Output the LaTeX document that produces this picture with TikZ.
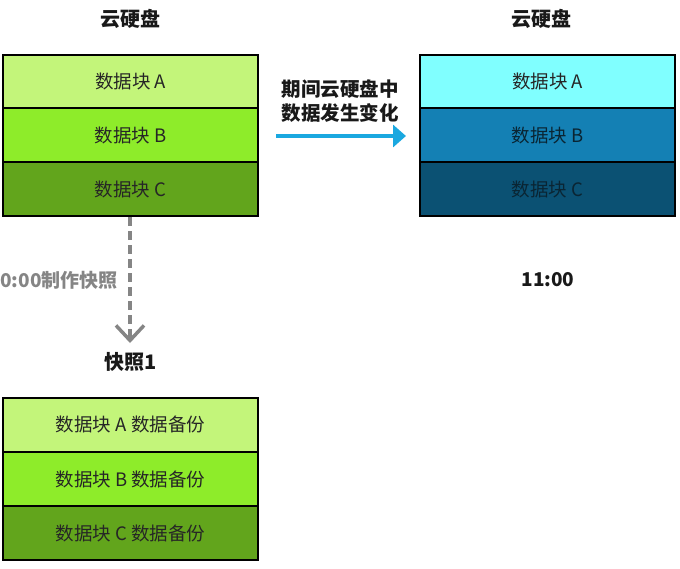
\documentclass[tikz,border=0pt]{standalone}
\usepackage{fontspec}
\setmainfont{Noto Sans CJK SC}
\usetikzlibrary{arrows.meta}
\definecolor{gA}{HTML}{C3F57A}
\definecolor{gB}{HTML}{8EEC2A}
\definecolor{gC}{HTML}{62A51C}
\definecolor{bA}{HTML}{80FFFF}
\definecolor{bB}{HTML}{1480B4}
\definecolor{bC}{HTML}{0B5173}
\definecolor{arrblue}{HTML}{1AA8E0}
\definecolor{dgray}{HTML}{858585}
\definecolor{darktxt}{HTML}{0A2533}
\tikzset{
  x=1pt,y=-1pt,
  blk/.style={draw=black,line width=2pt,minimum width=255pt,minimum height=54pt,inner sep=0pt,font=\fontsize{18.5}{20}\selectfont,text=black!85},
  ttl/.style={font=\bfseries\fontsize{20}{22}\selectfont,text=black!90},
}
\begin{document}
\begin{tikzpicture}
\useasboundingbox (0,0) rectangle (680,568);
% titles
\node[ttl] (t1) at (130,19) {云硬盘};
\node[ttl] (t2) at (541,19) {云硬盘};
% left disk
\node[blk,fill=gA] (la) at (130.5,81.5) {数据块 A};
\node[blk,fill=gB] (lb) at (130.5,135) {数据块 B};
\node[blk,fill=gC] (lc) at (130.5,189) {数据块 C};
% right disk
\node[blk,fill=bA] (ra) at (547.5,81.5) {数据块 A};
\node[blk,fill=bB,text=darktxt] (rb) at (547.5,135) {数据块 B};
\node[blk,fill=bC,text=darktxt] (rc) at (547.5,189) {数据块 C};
% change arrow
\node[ttl,align=center,font=\bfseries\fontsize{19.5}{24}\selectfont] (chg) at (340,101) {期间云硬盘中\\数据发生变化};
\coordinate (cs) at (276,136);
\coordinate (ce) at (406,136);
\draw[arrblue,line width=4pt,-{Triangle[length=13pt,width=22pt]}] (cs) -- (ce);
\node[ttl,font=\bfseries\fontsize{19}{22}\selectfont] (time2) at (548,280) {11:00};
% snapshot arrow
\coordinate (ds) at (130,218);
\coordinate (de) at (130,343);
\node[ttl] (s1) at (131,362) {快照1};
\draw[dgray,line width=3.5pt,dash pattern=on 9pt off 5pt,-{Straight Barb[length=15pt,width=28pt,line width=3.5pt]}] (lc.south -| ds) -- (de);
\node[font=\bfseries\fontsize{19}{22}\selectfont,text=dgray,anchor=west,inner sep=0pt] (mk) at (0,280) {0:00制作快照};
% snapshot blocks
\node[blk,fill=gA] (sa) at (130.5,424.5) {数据块 A 数据备份};
\node[blk,fill=gB] (sb) at (130.5,479) {数据块 B 数据备份};
\node[blk,fill=gC] (sc) at (130.5,533) {数据块 C 数据备份};
\end{tikzpicture}
\end{document}
